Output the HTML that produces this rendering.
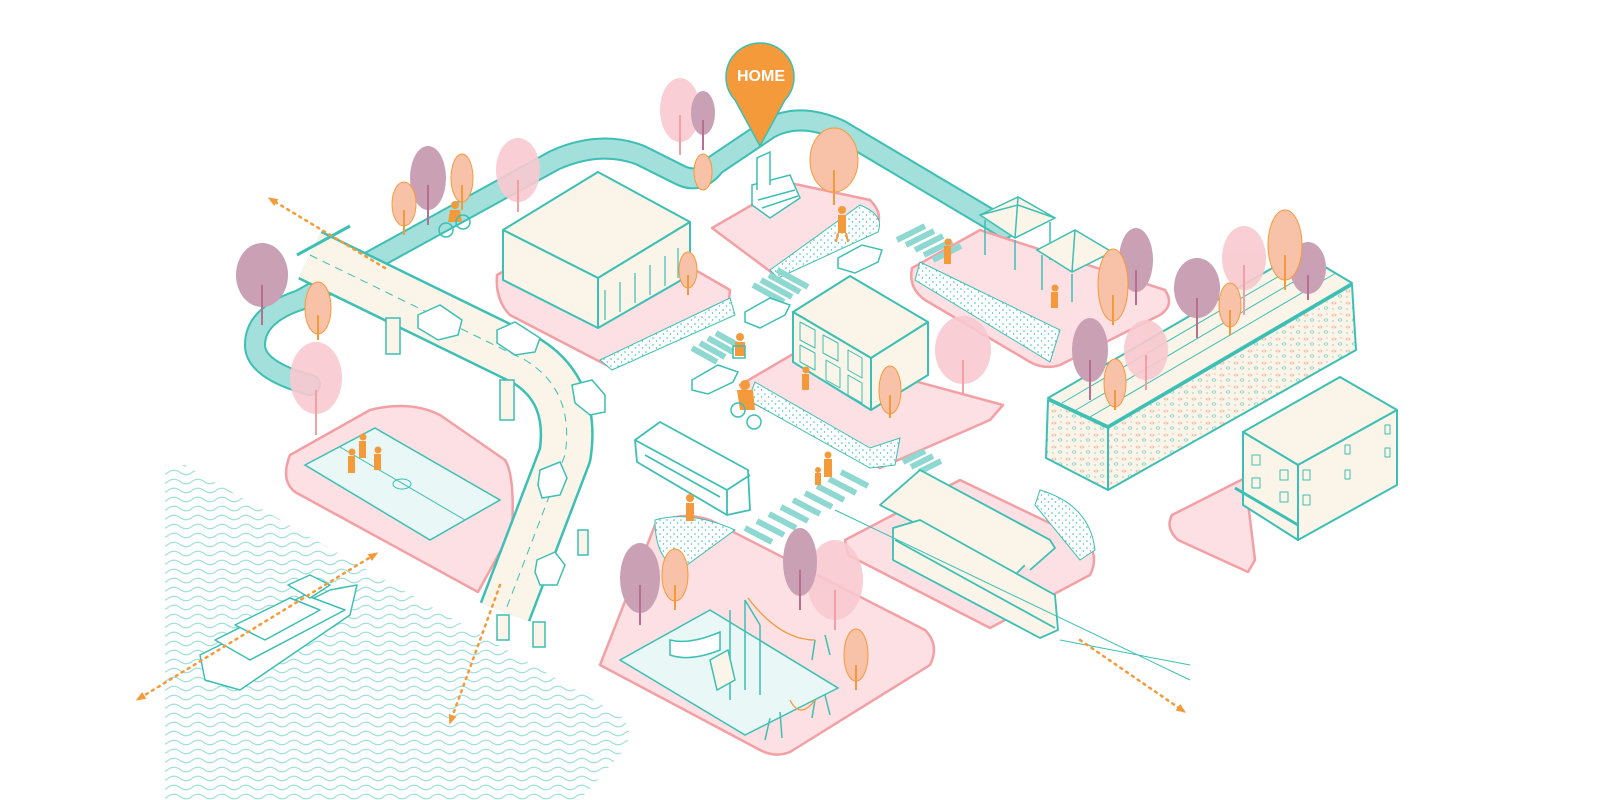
<!DOCTYPE html>
<html><head><meta charset="utf-8"><style>
html,body{margin:0;padding:0;background:#fff;}
svg{display:block;}
</style></head><body>
<svg width="1600" height="800" viewBox="0 0 1600 800" xmlns="http://www.w3.org/2000/svg">
<defs>
<pattern id="wave" width="24" height="9" patternUnits="userSpaceOnUse">
<path d="M0,4.5 Q6,0 12,4.5 T24,4.5" fill="none" stroke="#9fe0dc" stroke-width="1.3"/>
</pattern>
<pattern id="dots" width="7" height="7" patternUnits="userSpaceOnUse">
<rect width="7" height="7" fill="#fff"/>
<circle cx="2" cy="2" r="0.8" fill="#3cbfb4"/><circle cx="5.5" cy="5" r="0.7" fill="#3cbfb4"/>
</pattern>
<pattern id="stone" width="14" height="12" patternUnits="userSpaceOnUse">
<rect width="14" height="12" fill="#fbf4e9"/>
<ellipse cx="4" cy="3" rx="2" ry="1" fill="none" stroke="#e6a58e" stroke-width="0.6"/>
<ellipse cx="10" cy="8" rx="2" ry="1.2" fill="none" stroke="#3cbfb4" stroke-width="0.5"/>
<circle cx="11" cy="2" r="0.6" fill="#e6a58e"/><circle cx="3" cy="9" r="0.6" fill="#3cbfb4"/>
</pattern>
<marker id="ah" markerWidth="10" markerHeight="10" refX="5" refY="5" orient="auto" markerUnits="userSpaceOnUse"><path d="M0,1 L10,5 L0,9 Z" fill="#f59a3a"/></marker>
<marker id="ahs" markerWidth="10" markerHeight="10" refX="5" refY="5" orient="auto-start-reverse" markerUnits="userSpaceOnUse"><path d="M0,1 L10,5 L0,9 Z" fill="#f59a3a"/></marker>
</defs>

<!-- water -->
<path d="M165,465 L185,465 L620,715 Q640,735 615,760 L580,800 L165,800 Z" fill="url(#wave)"/>

<!-- teal path -->
<g fill="none" stroke-linecap="round" stroke-linejoin="round">
<path d="M310,385 Q255,370 255,345 Q255,315 300,300 L555,160 Q600,140 640,155 L680,175 Q700,185 715,165 L770,128 Q800,112 840,130 L1005,228" stroke="#3cbfb4" stroke-width="22"/>
<path d="M310,385 Q255,370 255,345 Q255,315 300,300 L555,160 Q600,140 640,155 L680,175 Q700,185 715,165 L770,128 Q800,112 840,130 L1005,228" stroke="#a3dfdb" stroke-width="18"/>
</g>

<!-- pink plates -->
<g fill="#fde0e3" stroke="#f3a0a5" stroke-width="2.5" stroke-linejoin="round">
<path d="M497,275 L600,215 L730,290 L728,310 L612,368 L510,315 Q495,300 497,275Z"/>
<path d="M712,228 L790,183 L870,200 Q885,215 875,230 L775,275 Z"/>
<path d="M912,268 L980,230 L1165,290 Q1175,305 1160,315 L1060,365 Q1045,370 1030,362 L925,300 Q908,288 912,268Z"/>
<path d="M740,385 L800,350 L1003,405 L990,420 L880,468 L748,400Z"/>
<path d="M290,455 L370,410 Q410,400 440,415 L505,460 Q515,475 512,530 L478,592 L295,492 Q280,480 290,455Z"/>
<path d="M600,665 L655,525 Q680,510 710,520 L925,630 Q940,645 930,665 L790,752 Q775,758 760,750 Z"/>
<path d="M845,540 L960,480 L1085,540 Q1100,555 1090,575 L990,628 L848,555Z"/>
<path d="M1172,515 L1245,478 L1255,560 L1248,572 L1178,540 Q1165,528 1172,515Z"/>
</g>

<!-- sidewalks dotted -->
<g fill="url(#dots)" stroke="#3cbfb4" stroke-width="1">
<path d="M600,360 L730,298 L735,315 L612,370Z"/>
<path d="M770,270 L860,205 Q885,215 878,232 L778,278Z"/>
<path d="M920,262 L1060,330 L1050,362 L915,280Z"/>
<path d="M755,382 L870,448 L900,438 L895,465 L870,468 L748,400Z"/>
<path d="M655,520 Q690,510 735,530 L680,570 Q655,560 655,520Z"/>
<path d="M1040,490 Q1090,505 1095,550 L1080,560 L1035,505Z"/>
</g>

<!-- crosswalks -->
<g stroke="#8fd8d2" stroke-width="6" fill="none">
<path d="M777,270 L808,287 M769,275 L800,292 M761,280 L792,297 M753,285 L784,302"/>
<path d="M708,338 L733,352 M700,343 L725,357 M692,348 L717,362 M716,333 L741,347"/>
<path d="M897,240 L925,226 M906,245 L934,231 M915,250 L943,236 M924,255 L952,241 M933,260 L961,246"/>
<path d="M745,528 L772,542 M757,521 L784,535 M769,514 L796,528 M781,507 L808,521 M793,500 L820,514 M805,493 L832,507 M817,486 L844,500 M829,479 L856,493 M841,472 L868,486"/>
<path d="M903,462 L925,451 M911,467 L933,456 M919,472 L941,461"/>
</g>

<!-- basketball court -->
<path d="M305,465 L375,428 L500,500 L430,540Z" fill="#e9f7f6" stroke="#3cbfb4" stroke-width="1.5"/>
<path d="M340,447 L465,520" stroke="#3cbfb4" fill="none"/>
<ellipse cx="402" cy="484" rx="9" ry="5" fill="none" stroke="#3cbfb4"/>
<!-- playground surface -->
<path d="M620,660 L710,610 L838,688 L745,735Z" fill="#e9f7f6" stroke="#3cbfb4" stroke-width="1.5"/>

<!-- highway -->
<g fill="none" stroke-linejoin="round">
<path d="M310,255 L525,360 Q575,390 565,455 L505,612" stroke="#3cbfb4" stroke-width="54"/>
<path d="M310,255 L525,360 Q575,390 565,455 L505,612" stroke="#fbf4e9" stroke-width="49"/>
<path d="M310,255 L525,360 Q575,390 565,455 L505,612" stroke="#3cbfb4" stroke-width="1" stroke-dasharray="8 6"/>
</g>
<path d="M297,255 L350,226" stroke="#3cbfb4" stroke-width="3"/>
<g fill="#fbf4e9" stroke="#3cbfb4" stroke-width="1.5">
<rect x="386" y="318" width="14" height="36"/><rect x="500" y="380" width="14" height="40"/>
<rect x="497" y="615" width="12" height="25"/><rect x="533" y="622" width="12" height="25"/><rect x="578" y="530" width="10" height="25"/>
</g>

<!-- big building -->
<g stroke="#3cbfb4" stroke-width="2" stroke-linejoin="round">
<path d="M503,230 L598,172 L690,222 L598,278Z" fill="#fbf4e9"/>
<path d="M503,230 L598,278 L598,328 L503,280Z" fill="#fbf4e9"/>
<path d="M598,278 L690,222 L690,275 L598,328Z" fill="#fbf4e9"/>
<path d="M605,290 L605,320 M620,282 L620,312 M635,273 L635,303 M650,265 L650,295 M665,256 L665,286 M678,248 L678,278" stroke-width="1.2"/>
</g>

<!-- home steps -->
<g fill="#fff" stroke="#3cbfb4" stroke-width="1.5">
<path d="M752,185 L790,175 L800,198 L770,218 L752,205Z"/>
<path d="M757,190 L757,158 L770,152 L770,185"/>
<path d="M758,200 L795,190 M762,208 L798,196"/>
</g>

<!-- gazebos -->
<g fill="#fbf4e9" stroke="#3cbfb4" stroke-width="1.5">
<path d="M980,215 L1018,197 L1055,218 L1015,238Z"/><path d="M980,215 L1018,205 L1055,218 M1018,197 L1015,238"/>
<path d="M985,220 L985,255 M1050,222 L1050,260 M1015,240 L1015,270"/>
<path d="M1037,250 L1075,230 L1112,252 L1072,272Z"/><path d="M1075,230 L1072,272"/>
<path d="M1042,255 L1042,290 M1107,256 L1107,292 M1072,274 L1072,302"/>
</g>

<!-- school -->
<g stroke="#3cbfb4" stroke-width="2" stroke-linejoin="round" fill="#fbf4e9">
<path d="M793,312 L850,276 L928,322 L871,358Z"/>
<path d="M793,312 L871,358 L871,410 L793,362Z"/>
<path d="M871,358 L928,322 L928,375 L871,410Z"/>
<g stroke-width="1" fill="none">
<path d="M800,322 L800,340 L815,348 L815,330Z M800,345 L800,362 L815,370 L815,353Z M823,335 L823,353 L838,361 L838,343Z M848,350 L848,370 L862,378 L862,358Z M848,375 L848,395 L862,403 L862,383Z M826,360 L826,380 L840,388 L840,368Z"/>
</g>
</g>

<!-- retaining wall -->
<g stroke="#3cbfb4" stroke-width="2" stroke-linejoin="round">
<path d="M1048,398 L1300,252 L1352,283 L1108,426Z" fill="#fbf4e9"/>
<path d="M1048,400 L1108,428 L1108,490 L1046,458Z" fill="url(#stone)"/>
<path d="M1108,428 L1352,285 L1356,350 L1108,490Z" fill="url(#stone)"/>
<path d="M1062,403 L1310,258 M1076,410 L1322,265 M1090,417 L1336,273" stroke-width="1"/>
</g>

<!-- apartment -->
<g stroke="#3cbfb4" stroke-width="2" stroke-linejoin="round" fill="#fbf4e9">
<path d="M1243,432 L1340,377 L1397,410 L1298,465Z"/>
<path d="M1243,432 L1298,465 L1298,540 L1243,505Z"/>
<path d="M1298,465 L1397,410 L1397,485 L1298,540Z"/>
<path d="M1235,488 L1298,525" stroke-width="3"/>
<g stroke-width="1"><rect x="1252" y="455" width="8" height="10"/><rect x="1280" y="470" width="8" height="10"/><rect x="1252" y="478" width="8" height="10"/><rect x="1280" y="492" width="8" height="10"/><rect x="1303" y="470" width="7" height="10"/><rect x="1303" y="495" width="7" height="10"/><rect x="1345" y="445" width="5" height="9"/><rect x="1385" y="425" width="5" height="9"/><rect x="1345" y="470" width="5" height="9"/><rect x="1385" y="448" width="5" height="9"/></g>
</g>

<!-- train station -->
<g stroke="#3cbfb4" stroke-width="1.8" fill="#fbf4e9" stroke-linejoin="round">
<path d="M880,505 L920,470 L1050,540 L1015,575Z"/>
<path d="M920,470 L1050,540 L1055,548 L1030,570"/>
<path d="M893,528 L920,520 L1055,595 L1058,630 L1040,638 L893,560Z"/>
<path d="M895,540 L1055,628" fill="none"/>
</g>
<path d="M835,510 L1190,680 M1060,640 L1190,665" stroke="#3cbfb4" stroke-width="1" fill="none"/>

<!-- bus -->
<g stroke="#3cbfb4" stroke-width="1.8" fill="#fff" stroke-linejoin="round">
<path d="M635,440 L660,422 L748,470 L750,510 L727,515 L637,462Z"/>
<path d="M635,440 L727,490 L750,475 M727,490 L727,515" fill="none"/>
<path d="M645,455 L720,497" fill="none"/>
</g>

<!-- boat -->
<g stroke="#3cbfb4" stroke-width="1.5" fill="#fff" stroke-linejoin="round">
<path d="M200,655 L330,590 L357,585 L350,615 L240,690 L205,680Z"/>
<path d="M215,640 L305,595 L345,610 L250,660Z"/>
<path d="M235,625 L290,598 L320,610 L265,640Z"/>
<path d="M288,585 L310,575 L330,585 L310,598Z"/>
</g>

<!-- cars -->
<g stroke="#3cbfb4" stroke-width="1.5" fill="#fff">
<path d="M418,315 L440,305 L462,320 L458,335 L438,340 L418,328Z"/>
<path d="M497,330 L515,322 L540,338 L535,352 L515,355 L497,343Z"/>
<path d="M572,385 L592,380 L605,395 L605,412 L590,415 L575,403Z"/>
<path d="M540,470 L560,462 L567,478 L560,495 L542,498 L538,485Z"/>
<path d="M537,560 L555,552 L565,565 L557,585 L540,585 L535,572Z"/>
<path d="M745,312 L770,298 L790,305 L785,315 L760,328 L745,322Z"/>
<path d="M838,258 L862,245 L882,250 L878,262 L855,273 L838,268Z"/>
<path d="M692,380 L718,365 L738,372 L733,382 L708,394 L692,390Z"/>
</g>

<!-- trees -->
<g>
<g fill="#f8c9cf" opacity="0.9">
<ellipse cx="680" cy="110" rx="20" ry="32"/><ellipse cx="518" cy="170" rx="22" ry="32"/>
<ellipse cx="316" cy="378" rx="26" ry="36"/><ellipse cx="963" cy="350" rx="28" ry="34"/>
<ellipse cx="835" cy="580" rx="28" ry="40"/><ellipse cx="1244" cy="258" rx="22" ry="32"/>
<ellipse cx="1146" cy="350" rx="22" ry="30"/>
</g>
<g fill="#c9a0b4">
<ellipse cx="428" cy="178" rx="18" ry="32"/><ellipse cx="703" cy="113" rx="12" ry="22"/>
<ellipse cx="262" cy="275" rx="26" ry="32"/><ellipse cx="1136" cy="260" rx="17" ry="32"/>
<ellipse cx="1197" cy="288" rx="23" ry="30"/><ellipse cx="1308" cy="268" rx="18" ry="26"/>
<ellipse cx="1090" cy="350" rx="18" ry="32"/><ellipse cx="640" cy="578" rx="20" ry="35"/>
<ellipse cx="800" cy="562" rx="17" ry="34"/>
</g>
<g fill="#f8c2a8" stroke="#f59a3a" stroke-width="1">
<ellipse cx="462" cy="178" rx="11" ry="24"/><ellipse cx="404" cy="204" rx="12" ry="22"/>
<ellipse cx="318" cy="308" rx="13" ry="26"/><ellipse cx="703" cy="172" rx="9" ry="18"/>
<ellipse cx="834" cy="160" rx="24" ry="32"/><ellipse cx="688" cy="270" rx="9" ry="18"/>
<ellipse cx="1113" cy="285" rx="15" ry="36"/><ellipse cx="1285" cy="245" rx="17" ry="35"/>
<ellipse cx="1230" cy="305" rx="11" ry="22"/><ellipse cx="1115" cy="383" rx="11" ry="24"/>
<ellipse cx="890" cy="390" rx="11" ry="24"/><ellipse cx="675" cy="575" rx="13" ry="26"/>
<ellipse cx="856" cy="655" rx="12" ry="26"/>
</g>
<g stroke="#b86f8f" stroke-width="2">
<path d="M428,185 L428,225 M703,120 L703,150 M262,285 L262,325 M1136,270 L1136,305 M1197,298 L1197,338 M1308,275 L1308,300 M1090,360 L1090,400 M640,585 L640,625 M800,570 L800,610"/>
</g>
<g stroke="#f59a3a" stroke-width="2">
<path d="M462,185 L462,210 M404,210 L404,235 M318,315 L318,340 M834,170 L834,205 M688,275 L688,295 M1113,295 L1113,325 M1285,255 L1285,290 M1230,310 L1230,335 M1115,390 L1115,410 M890,395 L890,418 M675,585 L675,610 M856,665 L856,690"/>
</g>
<g stroke="#f3a0a5" stroke-width="2">
<path d="M680,115 L680,155 M518,180 L518,212 M316,390 L316,435 M963,360 L963,395 M835,590 L835,630 M1244,265 L1244,315 M1146,355 L1146,390"/>
</g>
</g>

<!-- playground equipment -->
<g stroke="#3cbfb4" stroke-width="1.5" fill="#fff">
<path d="M730,610 L730,700 M745,600 L745,690 M760,625 L760,695 M745,600 L760,625"/>
<path d="M670,640 Q690,645 720,632 L720,650 Q690,662 670,655Z"/>
<path d="M710,660 L728,650 L735,680 L717,690Z" fill="#fbf4e9"/>
<path d="M815,640 L812,660 M825,635 L830,655 M815,700 L812,718 M825,695 L830,715 M770,718 L765,740 M780,712 L782,738"/>
</g>
<path d="M748,598 Q780,640 815,640 M790,700 Q800,720 815,700" stroke="#f59a3a" fill="none" stroke-width="1.3"/>

<!-- people (orange) -->
<g fill="#f59a3a">
<circle cx="455" cy="205" r="4"/><path d="M450,210 L460,210 L462,222 L448,222Z"/>
<circle cx="842" cy="210" r="4"/><rect x="838" y="215" width="8" height="18"/><path d="M838,233 L836,242 M846,233 L848,242" stroke="#f59a3a" stroke-width="2"/>
<circle cx="948" cy="242" r="3.5"/><rect x="944" y="246" width="7" height="18"/>
<circle cx="1055" cy="288" r="3.5"/><rect x="1051" y="292" width="7" height="16"/>
<circle cx="740" cy="337" r="4"/><rect x="735" y="342" width="10" height="14"/>
<circle cx="745" cy="385" r="5"/><path d="M737,390 L753,390 L755,410 L740,410Z"/>
<circle cx="806" cy="370" r="3.5"/><rect x="802" y="374" width="7" height="16"/>
<circle cx="828" cy="455" r="3.5"/><rect x="824" y="459" width="8" height="18"/>
<circle cx="818" cy="470" r="3"/><rect x="815" y="473" width="6" height="12"/>
<circle cx="690" cy="498" r="4"/><rect x="686" y="503" width="8" height="18"/>
<circle cx="363" cy="437" r="3.5"/><rect x="359" y="441" width="7" height="17"/>
<circle cx="352" cy="452" r="3.5"/><rect x="348" y="456" width="7" height="17"/>
<circle cx="378" cy="450" r="3.5"/><rect x="374" y="454" width="7" height="16"/>
</g>
<g fill="none" stroke="#3cbfb4" stroke-width="1.5">
<circle cx="446" cy="230" r="7"/><circle cx="463" cy="222" r="7"/>
<circle cx="738" cy="410" r="7"/><circle cx="754" cy="422" r="7"/>
<rect x="733" y="346" width="12" height="12"/>
</g>

<!-- orange dotted arrows -->
<g stroke="#f59a3a" stroke-width="2.5" stroke-dasharray="2 5" stroke-linecap="round" fill="none">
<path d="M385,268 L272,200" marker-end="url(#ah)"/>
<path d="M140,698 L374,555" marker-end="url(#ah)" marker-start="url(#ahs)"/>
<path d="M500,585 L451,720" marker-end="url(#ah)"/>
<path d="M1080,640 L1182,710" marker-end="url(#ah)"/>
</g>

<!-- HOME marker -->
<path d="M760,146 L735,100 A34,34 0 1 1 785,100 Z" fill="#f59a3a" stroke="#3cbfb4" stroke-width="1.5"/>
<text x="761" y="81" text-anchor="middle" font-family="Liberation Sans, sans-serif" font-weight="bold" font-size="16" fill="#fff">HOME</text>
</svg>
</body></html>
